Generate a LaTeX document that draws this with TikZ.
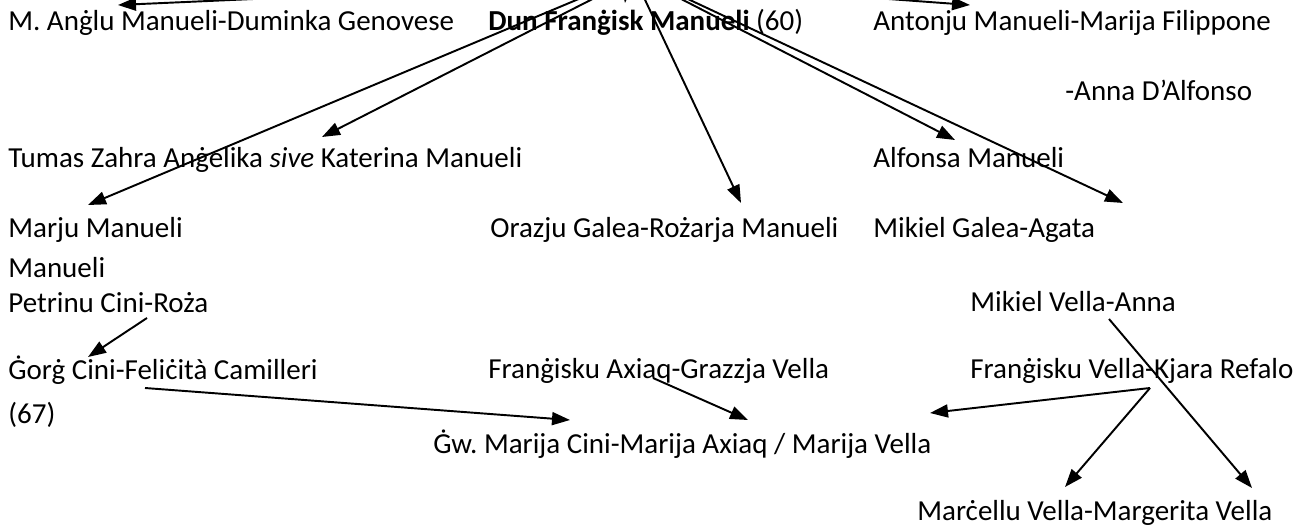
\documentclass[tikz,border=0pt]{standalone}
\usepackage{fontspec}
\setmainfont{Carlito}
\usepackage{tikz}
\usetikzlibrary{arrows.meta, calc}
\frenchspacing

\begin{document}
\begin{tikzpicture}[x=0.02cm, y=-0.02cm,
    person/.style={anchor=base west, inner sep=0pt, font=\fontsize{16.5}{20}\selectfont},
    arr/.style={-{Triangle[length=0.36cm, width=0.26cm]}, line width=1.1pt}]
    \useasboundingbox (0, 0) rectangle (1304, 527);
    \fill[white] (0, 0) rectangle (1304, 527);
    \clip (0, 0) rectangle (1304, 527);

    % 第一行
    \node[person] (angl) at (8, 31) {M. Anġlu Manueli-Duminka Genovese};
    \node[person] (dun) at (488, 31) {\textbf{Dun Franġisk Manueli} (60)};
    \node[person] (antonju) at (873, 31) {Antonju Manueli-Marija Filippone};
    \node[person] (anna) at (1065, 100) {-Anna D’Alfonso};

    % 第二行
    \node[person] (tumas) at (8, 167) {Tumas Zahra Anġelika \textit{sive} Katerina Manueli};
    \node[person] (alfonsa) at (873, 167) {Alfonsa Manueli};
    \node[person] (marju) at (8, 237) {Marju Manueli};
    \node[person] (orazju) at (490, 237) {Orazju Galea-Rożarja Manueli};
    \node[person] (mikielg) at (873, 237) {Mikiel Galea-Agata};

    % 第三行
    \node[person] (manueli) at (8, 277) {Manueli};
    \node[person] (petrinu) at (8, 312) {Petrinu Cini-Roża};
    \node[person] (mikielv) at (970, 311) {Mikiel Vella-Anna};
    \node[person] (gorg) at (8, 379) {Ġorġ Cini-Feliċità Camilleri};
    \node[person] (axiaq) at (488, 378) {Franġisku Axiaq-Grazzja Vella};
    \node[person] (frangv) at (970, 378) {Franġisku Vella-Kjara Refalo};
    \node[person] (n67) at (8, 423) {(67)};
    \node[person] (gw) at (433, 453) {Ġw. Marija Cini-Marija Axiaq / Marija Vella};
    \node[person] (marcellu) at (917, 520) {Marċellu Vella-Margerita Vella};

    % 上方（图外）的起点
    \coordinate (upA) at (457, -10);
    \coordinate (upD) at (628, -25);
    \coordinate (upT) at (766, -10);
    \coordinate (upTu) at (620, -15);
    \coordinate (upMa) at (612, -15);
    \coordinate (upO) at (638, -15);
    \coordinate (upAl) at (654, -15);
    \coordinate (upMi) at (658, -15);

    % 箭头
    \draw[arr] (upA) -- ($(angl.base west)+(110, -26)$);
    \draw[arr] (upD) -- ($(dun.base west)+(137, -28)$);
    \draw[arr] (upT) -- ($(antonju.base west)+(97, -26)$);
    \draw[arr] (upTu) -- ($(tumas.base west)+(314, -30)$);
    \draw[arr] (upMa) -- ($(marju.base west)+(80, -32)$);
    \draw[arr] (upO) -- ($(orazju.base west)+(251, -34)$);
    \draw[arr] (upAl) -- ($(alfonsa.base west)+(82, -27)$);
    \draw[arr] (upMi) -- ($(mikielg.base west)+(250, -34)$);
    \draw[arr] ($(petrinu.base west)+(139, 6)$) -- ($(gorg.base west)+(80, -22)$);
    \draw[arr] ($(gorg.base west)+(137, 9)$) -- ($(gw.base west)+(137, -33)$);
    \draw[arr] ($(axiaq.base west)+(165, 0)$) -- ($(gw.base west)+(315, -33)$);
    \draw[arr] ($(frangv.base west)+(180, 10)$) -- ($(gw.base west)+(497, -40)$);
    \draw[arr] ($(frangv.base west)+(180, 10)$) -- ($(marcellu.base west)+(148, -33)$);
    \draw[arr] ($(mikielv.base west)+(139, 8)$) -- ($(marcellu.base west)+(335, -32)$);
\end{tikzpicture}
\end{document}
